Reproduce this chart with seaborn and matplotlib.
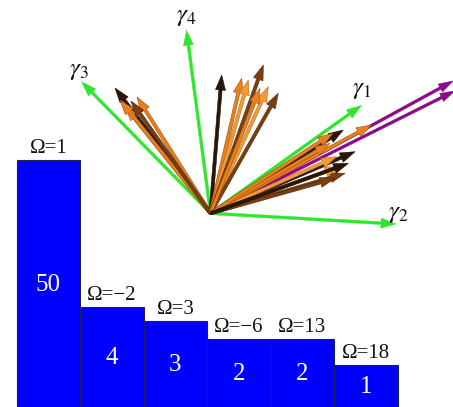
import numpy as np
import pandas as pd
import matplotlib
matplotlib.use("Agg")
import matplotlib.pyplot as plt
import seaborn as sns

# Multiplet sizes per Omega sector
omega = [1, -2, 3, -6, 13, 18]
counts = [50, 4, 3, 2, 2, 1]

# Basis directions gamma_1..gamma_4 (projected onto the drawing plane)
gamma_names = [r"$\gamma_1$", r"$\gamma_2$", r"$\gamma_3$", r"$\gamma_4$"]
gamma_dx = [151.0, 185.5, -129.0, -24.0]
gamma_dy = [108.0, -10.7, 131.6, 183.0]

# Projected state vectors, grouped in three bundles
state_dx = [-95.5, -73.5, -85.5, -90.5, -79.5,
            11.2, 31.2, 37.8, 52.8, 57.8, 67.8, 49.5,
            132.8, 161.0, 144.5, 126.0, 134.5, 119.5, 129.5, 124.5, 122.5, 138.0]
state_dy = [125.3, 116.3, 107.3, 113.3, 112.3,
            138.3, 135.0, 133.3, 148.3, 126.6, 120.0, 125.0,
            83.3, 88.3, 61.6, 56.6, 40.0, 70.0, 46.6, 35.0, 80.0, 50.0]

# Two long vectors along the upper-right diagonal
long_dx = [243.0, 244.5]
long_dy = [132.5, 122.5]

# ---- styles ----
shades = ["#2b1505", "#7a3f10", "#e8801e", "#f49a35"]
edges = ["#1a0c02", "#4a240a", "#9a4f10", "#b86a1c"]
state_shade = [0, 2, 3, 2, 1,
               0, 2, 3, 1, 3, 1, 2,
               0, 2, 0, 3, 1, 2, 3, 1, 2, 0]
green = "#2de62d"
purple = "#8a0a8a"
bar_blue = "#0000ff"

sns.set_theme(style="white")
plt.rcParams["font.family"] = ["Liberation Serif", "DejaVu Serif"]
plt.rcParams["mathtext.fontset"] = "stix"

fig = plt.figure(figsize=(4.53, 4.07), dpi=100)

# ---- bar panel ----
ax = fig.add_axes([0, 0, 1, 1])
df = pd.DataFrame({"sector": [str(w) for w in omega], "count": counts})
sns.barplot(data=df, x="sector", y="count", order=df["sector"], width=1.0,
            color=bar_blue, saturation=1, edgecolor="#202050", linewidth=0.8, ax=ax)
ax.set_yscale("function", functions=(np.log1p, np.expm1))
ax.set_xlim(-0.763, 6.371)
ax.set_ylim(np.expm1(2 / 63.3), np.expm1(409 / 63.3))
ax.axis("off")

for i, (w, c) in enumerate(zip(omega, counts)):
    ax.annotate(f"\u03a9={w}".replace("-", "\u2212"), (i, c), xytext=(0, 1.5),
                textcoords="offset points", ha="center", va="bottom",
                fontsize=15, color="#111111")
    mid = np.expm1(np.log1p(c) / 2)
    ax.text(i, mid, str(c), ha="center", va="center", fontsize=18, color="white")

# ---- vector panel ----
vx = fig.add_axes([0, 0, 1, 1], facecolor="none")
vx.set_xlim(-210.5, 242.5)
vx.set_ylim(-193.7, 213.3)
vx.axis("off")

for dx, dy in zip(long_dx, long_dy):
    vx.arrow(0, 0, dx, dy, width=2.8, head_width=9, head_length=15,
             length_includes_head=True, fc=purple, ec=purple, lw=0.3, zorder=2)

for dx, dy in zip(gamma_dx, gamma_dy):
    vx.arrow(0, 0, dx, dy, width=2.8, head_width=10, head_length=15,
             length_includes_head=True, fc=green, ec=green, lw=0.3, zorder=3)

for dx, dy, s in zip(state_dx, state_dy, state_shade):
    vx.arrow(0, 0, dx, dy, width=3.2, head_width=10, head_length=15,
             length_includes_head=True, fc=shades[s], ec=edges[s], lw=0.4, zorder=4)

label_x = [151.5, 187.5, -131.5, -24.5]
label_y = [123.3, -1.0, 142.3, 196.3]
for name, lx, ly in zip(gamma_names, label_x, label_y):
    vx.text(lx, ly, name, ha="center", va="center", fontsize=18, color="#111111")

fig.savefig("out.png", dpi=100)
